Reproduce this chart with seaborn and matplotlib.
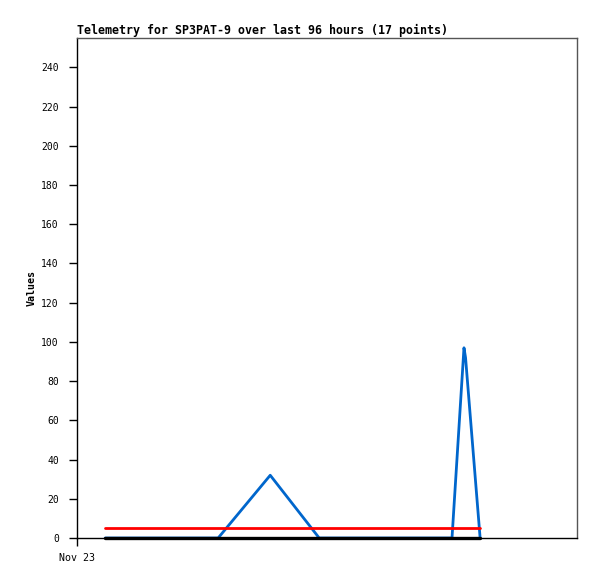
import pandas as pd
import matplotlib
matplotlib.use("Agg")
import matplotlib.pyplot as plt
import seaborn as sns

# hours after Nov 23 00:00 for each of the 17 samples
hours = [5.4, 10.0, 15.0, 20.0, 27.1, 37.1, 46.5, 52.0, 56.0, 60.0, 64.0,
         67.0, 70.0, 72.0, 74.3, 74.6, 77.4]
blue_vals = [0, 0, 0, 0, 0, 32, 0, 0, 0, 0, 0, 0, 0, 0, 97, 92, 0]
red_vals = [5] * 17
black_vals = [0] * 17

start = pd.Timestamp("2023-11-23 00:00")
times = [start + pd.Timedelta(hours=h) for h in hours]

df = pd.DataFrame({"time": times, "blue": blue_vals,
                   "red": red_vals, "black": black_vals})

sns.set_style("white")
plt.rcParams["font.family"] = ["DejaVu Sans Mono"]
plt.rcParams["text.color"] = "black"

fig = plt.figure(figsize=(5.97, 5.79), dpi=100)
ax = fig.add_axes([77 / 597, 1 - 538 / 579, 500 / 597, 500 / 579])

# draw order: blue underneath, then red, black baseline on top
sns.lineplot(data=df, x="time", y="blue", color="#0066cc", linewidth=2, ax=ax)
sns.lineplot(data=df, x="time", y="red", color="#ff0000", linewidth=2, ax=ax)
sns.lineplot(data=df, x="time", y="black", color="black", linewidth=2.4,
             ax=ax, clip_on=False)

ax.set_xlim(start, start + pd.Timedelta(hours=96))
ax.set_ylim(0, 255)
ax.set_yticks(range(0, 241, 20))
ax.set_xticks([start])
ax.set_xticklabels(["Nov 23"])
ax.tick_params(axis="both", direction="out", length=6, width=1,
               colors="black", left=True, bottom=True)
ax.tick_params(axis="y", labelsize=7, pad=7)
ax.tick_params(axis="x", labelsize=7.2, pad=5)
ax.set_xlabel("")
ax.set_ylabel("Values", fontsize=7.2, fontweight="bold", labelpad=3, color="black")
ax.set_title("Telemetry for SP3PAT-9 over last 96 hours (17 points)",
             loc="left", fontsize=8.4, fontweight="bold", pad=3, color="black")

for side in ["left", "bottom"]:
    ax.spines[side].set_color("black")
for side in ["top", "right"]:
    ax.spines[side].set_color("#555555")
for s in ax.spines.values():
    s.set_linewidth(1)

fig.savefig("out.png", dpi=100)
